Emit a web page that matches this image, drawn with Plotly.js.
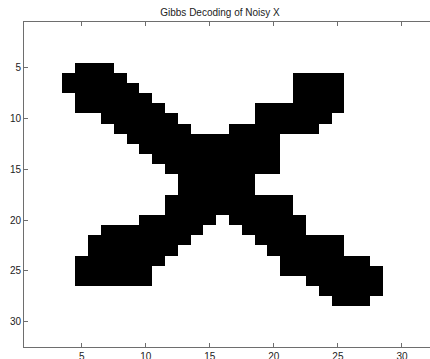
<!DOCTYPE html>
<html>
<head>
<meta charset="utf-8">
<script src="https://cdn.plot.ly/plotly-3.0.1.min.js"></script>
<style>
html, body { margin: 0; padding: 0; overflow: hidden; background: #fff; }
#chart { width: 440px; height: 359px; }
</style>
</head>
<body>
<div id="chart"></div>
<script>
// Decoded 32x32 binary image, row 1 at top ('#' = 1 / black, '.' = 0 / white)
var imageRows = [
  "................................",
  "................................",
  "................................",
  "................................",
  "....###.........................",
  "...#####.............####.......",
  "...######............####.......",
  "....######...........####.......",
  "....#######.......#######.......",
  "......######......######........",
  ".......######...#######.........",
  "........############............",
  ".........###########............",
  "..........##########............",
  "...........#########............",
  "............######..............",
  "............######..............",
  "...........##########...........",
  "...........##########...........",
  ".........######.######..........",
  "......########...#####..........",
  ".....########.....#######.......",
  ".....#######.......######.......",
  "....#######.........#######.....",
  "....######..........########....",
  "....######............######....",
  ".......................#####....",
  "........................###.....",
  "................................",
  "................................",
  "................................",
  "................................"
];
var colIndex = [];
for (var c = 1; c <= 32; c++) colIndex.push(c);
var rowIndex = [];
for (var r = 1; r <= 32; r++) rowIndex.push(r);
var tickValues = [5, 10, 15, 20, 25, 30];
var titleText = "Gibbs Decoding of Noisy X";

var z = imageRows.map(function (row) {
  return row.split("").map(function (ch) { return ch === "#" ? 1 : 0; });
});

var trace = {
  type: "heatmap",
  x: colIndex,
  y: rowIndex,
  z: z,
  zmin: 0,
  zmax: 1,
  colorscale: [[0, "#ffffff"], [1, "#000000"]],
  showscale: false,
  zsmooth: false,
  hoverinfo: "none"
};

var axisCommon = {
  showgrid: false,
  zeroline: false,
  showline: true,
  linecolor: "#6e6e6e",
  linewidth: 1,
  mirror: "ticks",
  ticks: "inside",
  ticklen: 4,
  tickwidth: 1,
  tickcolor: "#6e6e6e",
  tickmode: "array",
  tickvals: tickValues,
  tickfont: { family: "Liberation Sans, Arial, sans-serif", size: 10, color: "#222" }
};

var layout = {
  width: 440,
  height: 359,
  margin: { l: 24, r: 6, t: 22, b: 12, pad: 0 },
  paper_bgcolor: "#ffffff",
  plot_bgcolor: "#ffffff",
  title: {
    text: titleText,
    font: { family: "Liberation Sans, Arial, sans-serif", size: 10, color: "#222" },
    x: 0.5,
    xanchor: "center",
    y: 1,
    yref: "paper",
    yanchor: "bottom",
    pad: { b: 6 }
  },
  xaxis: Object.assign({}, axisCommon, { range: [0.5, 32.5] }),
  yaxis: Object.assign({}, axisCommon, { range: [32.5, 0.5] }),
  showlegend: false
};

Plotly.newPlot("chart", [trace], layout, { staticPlot: true, displayModeBar: false });
</script>
</body>
</html>
